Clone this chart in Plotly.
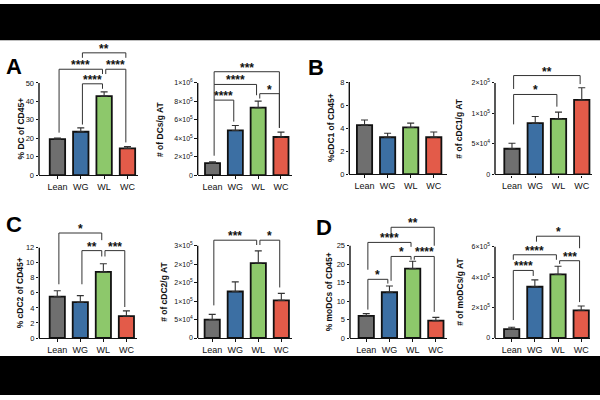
import plotly.graph_objects as go

# ---------------- data ----------------
groups = ["Lean", "WG", "WL", "WC"]
colors = ["#6f6f6f", "#3c6fa3", "#8dc86b", "#e35b49"]

dc_pct = [19.5, 23.5, 42.8, 14.5]
dc_pct_err = [0.6, 2.1, 2.3, 0.9]

dc_num = [1.3e5, 4.84e5, 7.31e5, 4.13e5]
dc_num_err = [0.15e5, 0.53e5, 0.71e5, 0.53e5]

cdc1_pct = [4.25, 3.2, 4.05, 3.2]
cdc1_pct_err = [0.45, 0.35, 0.38, 0.45]

cdc1_num = [4.2e4, 8.4e4, 9.1e4, 1.22e5]
cdc1_num_err = [0.9e4, 1.1e4, 1.1e4, 2.0e4]

cdc2_pct = [5.5, 4.76, 8.79, 2.9]
cdc2_pct_err = [0.78, 0.87, 1.08, 0.7]

cdc2_num = [5.0e4, 1.26e5, 2.03e5, 1.02e5]
cdc2_num_err = [1.4e4, 2.6e4, 3.3e4, 1.9e4]

modc_pct = [6.0, 12.4, 18.8, 4.7]
modc_pct_err = [0.6, 1.7, 2.0, 0.9]

modc_num = [5.8e4, 3.37e5, 4.18e5, 1.82e5]
modc_num_err = [1.3e4, 4.5e4, 5.4e4, 2.8e4]

# tick labels
ticks_dc_pct = [0, 10, 20, 30, 40, 50]
ticks_dc_num = [0, 2e5, 4e5, 6e5, 8e5, 1e6]
labels_dc_num = ["0", "2×10<sup>5</sup>", "4×10<sup>5</sup>", "6×10<sup>5</sup>", "8×10<sup>5</sup>", "1×10<sup>6</sup>"]
ticks_cdc1_pct = [0, 2, 4, 6, 8]
ticks_cdc1_num = [0, 5e4, 1e5, 1.5e5]
labels_cdc1_num = ["0", "5×10<sup>4</sup>", "1×10<sup>5</sup>", "2×10<sup>5</sup>"]
ticks_cdc2_pct = [0, 2, 4, 6, 8, 10, 12]
ticks_cdc2_num = [0, 5e4, 1e5, 1.5e5, 2e5, 2.5e5]
labels_cdc2_num = ["0", "5×10<sup>4</sup>", "1×10<sup>5</sup>", "2×10<sup>5</sup>", "2×10<sup>5</sup>", "3×10<sup>5</sup>"]
ticks_modc_pct = [0, 5, 10, 15, 20, 25]
ticks_modc_num = [0, 2e5, 4e5, 6e5]
labels_modc_num = ["0", "2×10<sup>5</sup>", "4×10<sup>5</sup>", "6×10<sup>5</sup>"]

# significance comparisons: (i, j, label, line level, leg end i, leg end j)
sig_dc_pct = [(1, 3, "**", 66.3, 63.6, 63.6), (0, 2, "****", 57.4, 23.0, 54.8),
              (2, 3, "****", 57.4, 54.8, 17.7), (1, 2, "****", 49.5, 27.4, 46.8)]
sig_dc_num = [(0, 3, "***", 1.121e6, 0.983e6, 5.12e5), (0, 2, "****", 0.983e6, 8.13e5, 8.66e5),
              (2, 3, "*", 8.83e5, 8.3e5, 5.12e5), (0, 1, "****", 8.13e5, 2.1e5, 5.8e5)]
sig_cdc1_num = [(0, 3, "**", 1.62e5, 1.40e5, 1.48e5), (0, 2, "*", 1.31e5, 8.2e4, 1.11e5)]
sig_cdc2_pct = [(0, 2, "*", 13.95, 7.14, 13.0), (1, 2, "**", 11.61, 7.14, 10.83),
                (2, 3, "***", 11.61, 10.83, 4.12)]
sig_cdc2_num = [(0, 2, "***", 2.65e5, 8.84e4, 2.52e5), (2, 3, "*", 2.65e5, 2.52e5, 1.37e5)]
sig_modc_pct = [(1, 3, "**", 30.0, 27.0, 25.0), (0, 2, "****", 25.9, 18.5, 24.7),
                (1, 2, "*", 22.1, 15.5, 21.2), (2, 3, "****", 22.1, 21.2, 7.07),
                (0, 1, "*", 15.9, 7.7, 14.75)]
sig_modc_num = [(1, 3, "*", 6.69e5, 6.33e5, 5.9e5), (0, 2, "****", 5.47e5, 5.14e5, 5.14e5),
                (2, 3, "***", 5.08e5, 4.87e5, 2.36e5), (0, 1, "****", 4.44e5, 1.18e5, 4.08e5)]

# ---------------- panel layout (pixel geometry) ----------------
W, H = 600, 400
panels = [
    dict(v=dc_pct, e=dc_pct_err, title="% DC of CD45+", tv=ticks_dc_pct, tt=None, sig=sig_dc_pct,
         xpx=(39, 137.5), xr=(-0.79, 3.43), y0=175, ytp=80.7, dtop=40, tx=20.5),
    dict(v=dc_num, e=dc_num_err, title="# of DCs/g AT", tv=ticks_dc_num, tt=labels_dc_num, sig=sig_dc_num,
         xpx=(197.7, 291.7), xr=(-0.65, 3.47), y0=175, ytp=80.7, dtop=40, tx=160),
    dict(v=cdc1_pct, e=cdc1_pct_err, title="%cDC1 of CD45+", tv=ticks_cdc1_pct, tt=None, sig=[],
         xpx=(349.3, 446.7), xr=(-0.66, 3.56), y0=174, ytp=79.8, dtop=79.8, tx=331),
    dict(v=cdc1_num, e=cdc1_num_err, title="# of cDC1/g AT", tv=ticks_cdc1_num, tt=labels_cdc1_num, sig=sig_cdc1_num,
         xpx=(495, 592), xr=(-0.73, 3.44), y0=174.3, ytp=80.7, dtop=40, tx=459),
    dict(v=cdc2_pct, e=cdc2_pct_err, title="% cDC2 of CD45+", tv=ticks_cdc2_pct, tt=None, sig=sig_cdc2_pct,
         xpx=(39.3, 137), xr=(-0.78, 3.46), y0=341.7, ytp=249.3, dtop=215, tx=19.5),
    dict(v=cdc2_num, e=cdc2_num_err, title="# of cDC2/g AT", tv=ticks_cdc2_num, tt=labels_cdc2_num, sig=sig_cdc2_num,
         xpx=(197.7, 291.7), xr=(-0.63, 3.45), y0=341.7, ytp=247.3, dtop=215, tx=164),
    dict(v=modc_pct, e=modc_pct_err, title="% moDCs of CD45+", tv=ticks_modc_pct, tt=None, sig=sig_modc_pct,
         xpx=(350, 447), xr=(-0.70, 3.48), y0=341.7, ytp=247.3, dtop=205, tx=328.5),
    dict(v=modc_num, e=modc_num_err, title="# of moDCs/g AT", tv=ticks_modc_num, tt=labels_modc_num, sig=sig_modc_num,
         xpx=(495, 590), xr=(-0.72, 3.38), y0=341.7, ytp=248.3, dtop=205, tx=460.5),
]
letters = [("A", 13.5, 64), ("B", 316, 65), ("C", 13.5, 225.5), ("D", 324, 228.5)]

FONT = "Liberation Sans, Arial, sans-serif"
INK = "#111111"

fig = go.Figure()
shapes = []
annotations = []
layout = {}

for n, p in enumerate(panels, start=1):
    sfx = "" if n == 1 else str(n)
    xa, ya = "x" + sfx, "y" + sfx
    tickmax = p["tv"][-1]
    ytop = tickmax * (p["y0"] - p["dtop"]) / (p["y0"] - p["ytp"])
    xs = list(range(len(groups)))

    fig.add_trace(go.Bar(
        x=xs, y=p["v"], width=0.66, xaxis=xa, yaxis=ya,
        marker=dict(color=colors, line=dict(color=INK, width=1.8)),
        error_y=dict(type="data", array=p["e"], arrayminus=[0] * len(p["e"]), symmetric=False,
                     width=3.5, thickness=1.1, color="#333"),
        showlegend=False, hoverinfo="skip",
    ))

    layout["xaxis" + sfx] = dict(
        domain=[p["xpx"][0] / W, p["xpx"][1] / W], anchor=ya, range=list(p["xr"]),
        tickmode="array", tickvals=xs, ticktext=groups, ticks="outside", ticklen=2.5,
        tickwidth=1, tickcolor=INK, showline=True, linecolor=INK, linewidth=1.4,
        showgrid=False, zeroline=False, fixedrange=True,
        tickfont=dict(family=FONT, size=9, color=INK),
    )
    layout["yaxis" + sfx] = dict(
        domain=[1 - p["y0"] / H, 1 - p["dtop"] / H], anchor=xa, range=[0, ytop],
        tickmode="array", tickvals=p["tv"], ticktext=p["tt"] if p["tt"] else [str(t) for t in p["tv"]],
        ticks="outside", ticklen=2.5, tickwidth=1, tickcolor=INK, showline=False,
        showgrid=False, zeroline=False, fixedrange=True,
        tickfont=dict(family=FONT, size=7 if p["tt"] else 7.5, color=INK),
    )
    # y-axis line (only up to the top tick)
    shapes.append(dict(type="line", xref=xa + " domain", yref=ya, x0=0, x1=0, y0=0, y1=tickmax,
                       line=dict(color=INK, width=1.4)))
    # axis title
    annotations.append(dict(text="<b>%s</b>" % p["title"], xref="paper", yref="paper",
                            x=p["tx"] / W, y=1 - (p["y0"] + p["ytp"]) / 2 / H, textangle=-90,
                            showarrow=False, xanchor="center", yanchor="middle",
                            font=dict(family=FONT, size=8.5, color=INK)))
    # significance brackets
    dx = 0.07
    for (i, j, lab, yl, ei, ej) in p["sig"]:
        xi, xj = i + dx, j - dx
        shapes.append(dict(type="path", xref=xa, yref=ya,
                           path="M %g,%g L %g,%g L %g,%g L %g,%g" % (xi, ei, xi, yl, xj, yl, xj, ej),
                           line=dict(color="#333", width=1)))
        annotations.append(dict(text="<b>%s</b>" % lab, xref=xa, yref=ya, x=(xi + xj) / 2, y=yl,
                                showarrow=False, xanchor="center", yanchor="bottom", yshift=-5,
                                font=dict(family=FONT, size=12, color=INK)))

for (t, x, y) in letters:
    annotations.append(dict(text="<b>%s</b>" % t, xref="paper", yref="paper", x=x / W, y=1 - y / H,
                            showarrow=False, xanchor="center", yanchor="middle",
                            font=dict(family=FONT, size=22, color="#000")))

# letterbox bands of the source image
shapes.append(dict(type="rect", xref="paper", yref="paper", x0=0, x1=1, y0=1 - 37 / H, y1=1,
                   fillcolor="#000", line=dict(width=0), layer="above"))
shapes.append(dict(type="rect", xref="paper", yref="paper", x0=0, x1=1, y0=0, y1=1 - 360 / H,
                   fillcolor="#000", line=dict(width=0), layer="above"))

fig.update_layout(
    width=W, height=H, margin=dict(l=0, r=0, t=0, b=0),
    paper_bgcolor="white", plot_bgcolor="white",
    shapes=shapes, annotations=annotations, bargap=0.3,
    **layout,
)
fig.write_html("out.html", include_plotlyjs=True, config={"displayModeBar": False})
